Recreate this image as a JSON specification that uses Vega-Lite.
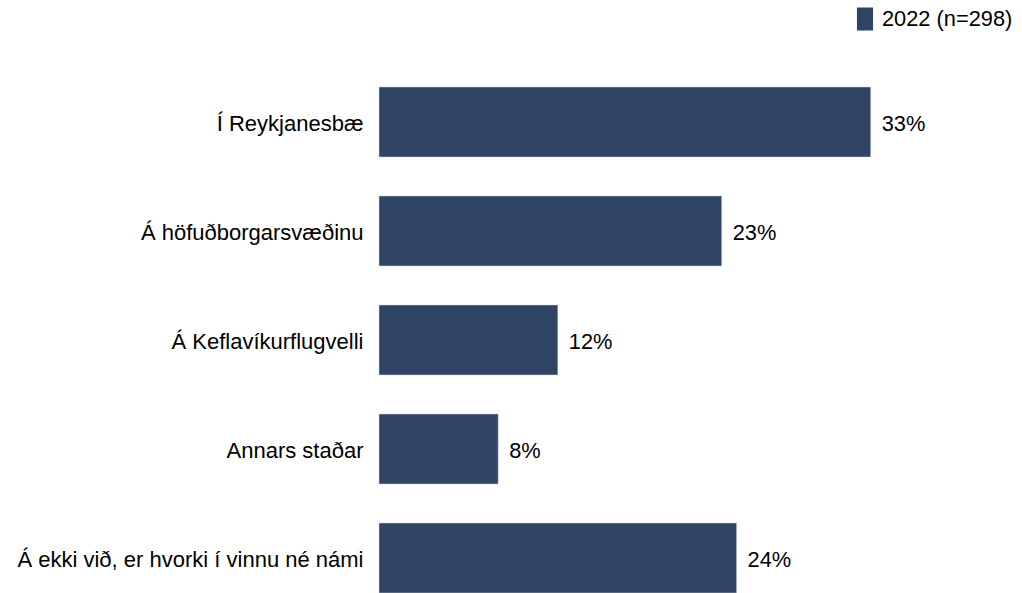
{
  "$schema": "https://vega.github.io/schema/vega-lite/v6.json",
  "width": 596,
  "height": 506,
  "autosize": {"type": "none"},
  "padding": {"left": 379, "top": 87, "right": 47, "bottom": 0},
  "background": "white",
  "config": {"view": {"stroke": null}, "font": "Liberation Sans"},
  "data": {
    "values": [
      {"category": "Í Reykjanesbæ", "value": 33, "label": "33%", "series": "2022 (n=298)"},
      {"category": "Á höfuðborgarsvæðinu", "value": 23, "label": "23%", "series": "2022 (n=298)"},
      {"category": "Á Keflavíkurflugvelli", "value": 12, "label": "12%", "series": "2022 (n=298)"},
      {"category": "Annars staðar", "value": 8, "label": "8%", "series": "2022 (n=298)"},
      {"category": "Á ekki við, er hvorki í vinnu né námi", "value": 24, "label": "24%", "series": "2022 (n=298)"}
    ]
  },
  "encoding": {
    "y": {
      "field": "category", "type": "nominal", "sort": null,
      "scale": {"paddingInner": 0.358, "paddingOuter": 0},
      "axis": {"title": null, "domain": false, "ticks": false, "labelFontSize": 22, "labelPadding": 16, "labelOffset": 2, "labelColor": "#000000", "labelLimit": 400}
    },
    "x": {"field": "value", "type": "quantitative", "scale": {"domain": [0, 40]}, "axis": null}
  },
  "layer": [
    {
      "mark": {"type": "bar", "stroke": "#d0d6de", "strokeWidth": 0.5},
      "encoding": {
        "color": {
          "field": "series", "type": "nominal",
          "scale": {"range": ["#304465"]},
          "legend": {
            "title": null, "orient": "none", "legendX": 474.5, "legendY": -79.5, "padding": 0,
            "symbolType": "M-0.7,-1H0.7V1H-0.7Z", "symbolSize": 529,
            "symbolStrokeWidth": 0, "symbolOpacity": 1,
            "labelFontSize": 21.8, "labelColor": "#000000", "labelOffset": 5.5
          }
        }
      }
    },
    {
      "mark": {"type": "text", "align": "left", "baseline": "middle", "dx": 11, "dy": 2, "fontSize": 21.8, "color": "#000000"},
      "encoding": {"text": {"field": "label"}}
    }
  ]
}
